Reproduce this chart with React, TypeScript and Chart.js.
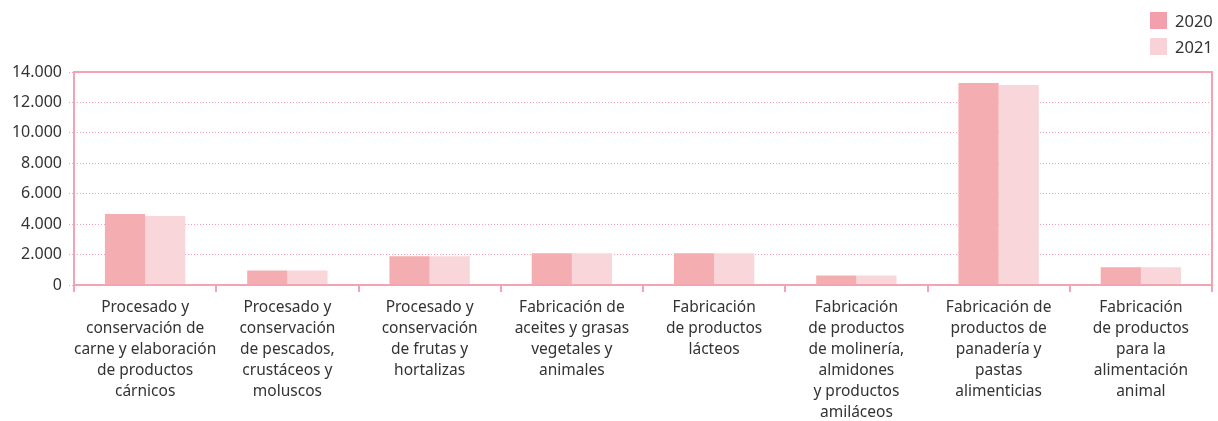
import React, { useEffect, useRef } from "react";
import { Chart, registerables } from "chart.js";

Chart.register(...registerables);

const categories: string[][] = [
  ["Procesado y", "conservación de", "carne y elaboración", "de productos", "cárnicos"],
  ["Procesado y", "conservación", "de pescados,", "crustáceos y", "moluscos"],
  ["Procesado y", "conservación", "de frutas y", "hortalizas"],
  ["Fabricación de", "aceites y grasas", "vegetales y", "animales"],
  ["Fabricación", "de productos", "lácteos"],
  ["Fabricación", "de productos", "de molinería,", "almidones", "y productos", "amiláceos"],
  ["Fabricación de", "productos de", "panadería y", "pastas", "alimenticias"],
  ["Fabricación", "de productos", "para la", "alimentación", "animal"],
];

const seriesNames = ["2020", "2021"];
const values2020 = [4670, 960, 1890, 2080, 2080, 630, 13280, 1160];
const values2021 = [4530, 960, 1890, 2080, 2080, 630, 13150, 1160];

const yTicks = [0, 2000, 4000, 6000, 8000, 10000, 12000, 14000];

const barColors = ["#f4adb0", "#f9d6da"];
const legendColors = ["#f4a0ac", "#f9d2d8"];
const lineColor = "#f4a3b2";
const FONT = "'Noto Sans', sans-serif";

export default function App() {
  const ref = useRef<HTMLCanvasElement | null>(null);

  useEffect(() => {
    document.body.style.margin = "0";
    const boxPlugin = {
      id: "box",
      afterDatasetsDraw(chart: any) {
        const { ctx, chartArea } = chart;
        ctx.save();
        ctx.strokeStyle = lineColor;
        ctx.lineWidth = 2;
        ctx.strokeRect(chartArea.left, chartArea.top, chartArea.right - chartArea.left, chartArea.bottom - chartArea.top);
        ctx.restore();
      },
    };
    const chart = new Chart(ref.current as HTMLCanvasElement, {
      type: "bar",
      data: {
        labels: categories,
        datasets: [
          { label: seriesNames[0], data: values2020, backgroundColor: barColors[0], barPercentage: 1, categoryPercentage: 0.565 },
          { label: seriesNames[1], data: values2021, backgroundColor: barColors[1], barPercentage: 1, categoryPercentage: 0.565 },
        ],
      },
      options: {
        animation: false,
        responsive: true,
        maintainAspectRatio: false,
        layout: { padding: { top: 72, right: 6, left: 0, bottom: 0 } },
        plugins: { legend: { display: false }, tooltip: { enabled: false } },
        scales: {
          x: {
            offset: true,
            grid: { offset: true, drawOnChartArea: false, drawTicks: true, tickLength: 7, color: lineColor, lineWidth: 2 },
            border: { display: false },
            ticks: { color: "#333", font: { family: FONT, size: 15.5, lineHeight: "21px" }, padding: 5, maxRotation: 0, autoSkip: false },
            afterFit: (s: any) => { s.height = 421 - 285; },
          },
          y: {
            min: 0,
            max: 14000,
            afterBuildTicks: (s: any) => { s.ticks = yTicks.map((v) => ({ value: v })); },
            grid: { color: lineColor, lineWidth: 1, tickLength: 5, drawTicks: true, tickBorderDash: [1, 2] } as any,
            border: { display: false, dash: [1, 2] },
            ticks: {
              color: "#333",
              font: { family: FONT, size: 16 },
              padding: 7,
              callback: (v: any) => Number(v).toLocaleString("de-DE"),
            },
            afterFit: (s: any) => { s.width = 74; },
          },
        },
      },
      plugins: [boxPlugin],
    });
    return () => chart.destroy();
  }, []);

  return (
    <div style={{ position: "relative", width: 1218, height: 421 }}>
      <canvas ref={ref} />
      <div style={{ position: "absolute", left: 1150, top: 12, fontFamily: FONT, fontSize: 16.5, color: "#333" }}>
        {seriesNames.map((n, i) => (
          <div key={n} style={{ display: "flex", alignItems: "center", height: 17, marginBottom: 9 }}>
            <span style={{ display: "inline-block", width: 17, height: 17, background: legendColors[i], marginRight: 8 }} />
            <span>{n}</span>
          </div>
        ))}
      </div>
    </div>
  );
}
